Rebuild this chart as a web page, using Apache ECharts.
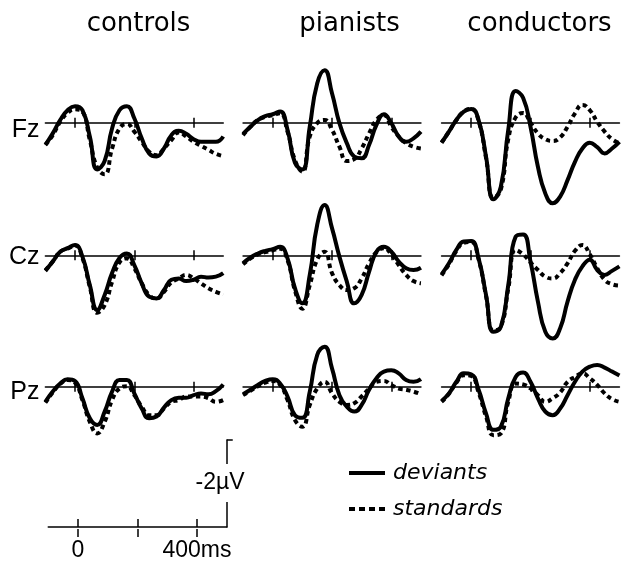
<!DOCTYPE html>
<html><head><meta charset="utf-8">
<script src="https://cdn.jsdelivr.net/npm/echarts@6/dist/echarts.min.js"></script>
<style>html,body{margin:0;padding:0;background:#fff}#c{width:628px;height:562px}</style>
</head><body><div id="c"></div>
<script>
// ---- data (µV, negative plotted upward) ----
const groups = ['controls', 'pianists', 'conductors'];
const sites = ['Fz', 'Cz', 'Pz'];
const timesMs = [-100,-75,-50,-25,0,25,50,75,100,125,150,175,200,225,250,275,300,325,350,375,400,425,450,475,500];
const panelTicksMs = [0, 200, 400];
const scaleTickLabelsMs = [0, 400];
const legendNames = ['deviants', 'standards'];

const controlsFzDev  = [0.50,0.24,-0.06,-0.28,-0.37,-0.28,0.31,1.05,0.86,0.13,-0.28,-0.37,-0.10,0.35,0.69,0.76,0.58,0.28,0.18,0.25,0.37,0.43,0.43,0.43,0.31];
const controlsFzStd  = [0.50,0.28,-0.02,-0.22,-0.30,-0.25,0.39,1.01,1.16,0.58,0.13,0.03,0.20,0.43,0.65,0.73,0.58,0.39,0.22,0.31,0.43,0.52,0.61,0.70,0.75];
const pianistsFzDev  = [0.25,0.09,-0.06,-0.15,-0.19,-0.25,0.16,0.90,1.05,0.09,-0.88,-1.18,-0.66,0.01,0.46,0.76,0.80,0.50,0.05,-0.19,0.01,0.31,0.43,0.35,0.20];
const pianistsFzStd  = [0.28,0.09,-0.06,-0.13,-0.17,-0.21,0.20,0.84,1.10,0.31,0.01,-0.06,0.16,0.54,0.86,0.82,0.58,0.24,-0.06,-0.17,0.09,0.31,0.46,0.54,0.58];
const conductorsFzDev = [0.45,0.20,-0.06,-0.25,-0.31,-0.06,0.76,1.72,1.44,0.16,-0.71,-0.56,0.09,0.99,1.59,1.81,1.66,1.29,0.88,0.58,0.45,0.55,0.69,0.58,0.43];
const conductorsFzStd = [0.45,0.20,-0.06,-0.25,-0.31,-0.04,0.79,1.69,1.50,0.37,-0.12,-0.22,0.00,0.24,0.37,0.41,0.33,0.09,-0.21,-0.40,-0.28,-0.02,0.20,0.37,0.46];

const controlsCzDev  = [0.35,0.14,-0.08,-0.16,-0.23,0.03,0.67,1.23,0.89,0.40,0.06,-0.04,0.22,0.63,0.93,0.97,0.78,0.55,0.52,0.58,0.55,0.48,0.50,0.48,0.40];
const controlsCzStd  = [0.34,0.14,-0.08,-0.15,-0.22,0.06,0.71,1.29,1.12,0.60,0.16,0.07,0.29,0.63,0.89,0.97,0.82,0.61,0.52,0.44,0.52,0.63,0.74,0.82,0.88];
const pianistsCzDev  = [0.18,0.05,-0.04,-0.10,-0.14,-0.19,0.07,0.74,1.08,0.44,-0.68,-1.13,-0.61,0.03,0.59,1.08,0.89,0.37,-0.08,-0.19,-0.08,0.14,0.29,0.33,0.28];
const pianistsCzStd  = [0.20,0.07,-0.02,-0.07,-0.11,-0.15,0.11,0.79,1.20,0.67,0.10,-0.08,0.40,0.67,0.78,0.74,0.52,0.18,-0.07,-0.16,-0.02,0.22,0.44,0.58,0.63];
const conductorsCzDev = [0.43,0.18,-0.12,-0.31,-0.32,0.07,0.89,1.72,1.61,0.67,-0.42,-0.47,0.14,1.04,1.72,1.87,1.64,1.04,0.55,0.25,0.10,0.33,0.44,0.35,0.25];
const conductorsCzStd = [0.45,0.20,-0.10,-0.28,-0.30,0.09,0.91,1.69,1.61,0.75,-0.12,-0.02,0.16,0.33,0.48,0.52,0.40,0.18,-0.10,-0.23,-0.02,0.29,0.55,0.65,0.68];

const controlsPzDev  = [0.34,0.11,-0.07,-0.17,-0.13,0.26,0.71,0.86,0.56,0.11,-0.15,-0.15,0.15,0.49,0.71,0.67,0.47,0.30,0.25,0.25,0.19,0.15,0.17,0.10,-0.05];
const controlsPzStd  = [0.36,0.13,-0.06,-0.15,-0.09,0.30,0.79,1.05,0.79,0.30,0.04,-0.01,0.19,0.45,0.64,0.64,0.49,0.34,0.30,0.22,0.22,0.22,0.26,0.34,0.30];
const pianistsPzDev  = [0.17,0.07,-0.04,-0.13,-0.17,-0.07,0.22,0.64,0.70,0.11,-0.71,-0.90,-0.41,0.19,0.45,0.56,0.41,0.07,-0.19,-0.34,-0.37,-0.30,-0.15,-0.11,-0.17];
const pianistsPzStd  = [0.19,0.09,-0.01,-0.09,-0.13,-0.04,0.30,0.75,0.90,0.41,0.04,-0.11,0.15,0.34,0.41,0.37,0.22,0.04,-0.11,-0.13,-0.04,0.04,0.07,0.11,0.17];
const conductorsPzDev = [0.32,0.15,-0.11,-0.30,-0.28,0.07,0.60,0.97,0.90,0.26,-0.22,-0.32,-0.11,0.26,0.56,0.64,0.49,0.19,-0.11,-0.34,-0.45,-0.49,-0.43,-0.34,-0.25];
const conductorsPzStd = [0.34,0.16,-0.09,-0.26,-0.24,0.13,0.67,1.09,1.05,0.34,-0.07,-0.05,0.04,0.19,0.34,0.26,0.13,-0.11,-0.22,-0.30,-0.19,-0.04,0.15,0.28,0.34];

const waves = {
  Fz: { controls: [controlsFzDev, controlsFzStd], pianists: [pianistsFzDev, pianistsFzStd], conductors: [conductorsFzDev, conductorsFzStd] },
  Cz: { controls: [controlsCzDev, controlsCzStd], pianists: [pianistsCzDev, pianistsCzStd], conductors: [conductorsCzDev, conductorsCzStd] },
  Pz: { controls: [controlsPzDev, controlsPzStd], pianists: [pianistsPzDev, pianistsPzStd], conductors: [conductorsPzDev, conductorsPzStd] }
};

// ---- layout ----
const colLeft = [45.35, 243.05, 441.55];
const rowBase = [122.7, 255.3, 386.7];
const pxPerMs = 0.2965;
const pxPerUv = 44.5;
const yTop = -1.5;
const headerX = [138.5, 349.5, 539.5];
const labelY = [130, 257, 392];
const smoothness = 0.5;

const grid = [], xAxis = [], yAxis = [], series = [], graphic = [];
const black = '#000';
const noSplit = { show: false };

function addAxis(gi, pos, tickLen, showLine, labelOpt) {
  xAxis.push({
    gridIndex: gi, type: 'value', min: -100, max: 500, position: pos,
    axisLine: { show: showLine, onZero: false, lineStyle: { color: black, width: 1.5 } },
    axisTick: { show: true, inside: true, customValues: panelTicksMs, length: tickLen, lineStyle: { color: black, width: 1.5 } },
    axisLabel: labelOpt || { show: false }, splitLine: noSplit
  });
}

sites.forEach((site, r) => {
  groups.forEach((grp, c) => {
    const w = 600 * pxPerMs;
    // upper grid: bottom edge = 0 µV baseline
    const gA = grid.length;
    grid.push({ left: colLeft[c], top: rowBase[r] + yTop * pxPerUv, width: w, height: -yTop * pxPerUv });
    addAxis(gA, 'bottom', 5, true);
    const xa = xAxis.length - 1;
    yAxis.push({ gridIndex: gA, type: 'value', min: yTop, max: 0, inverse: true, show: false, axisLine: { onZero: false } });
    const ya = yAxis.length - 1;
    // lower thin grid: top edge = baseline, carries the downward tick halves
    const gB = grid.length;
    grid.push({ left: colLeft[c], top: rowBase[r], width: w, height: 20 });
    addAxis(gB, 'top', 5, false);
    yAxis.push({ gridIndex: gB, type: 'value', min: 0, max: 1, show: false, axisLine: { onZero: false } });

    const [dev, std] = waves[site][grp];
    series.push({
      type: 'line', name: legendNames[0], xAxisIndex: xa, yAxisIndex: ya,
      data: timesMs.map((t, i) => [t, dev[i]]), smooth: smoothness, symbol: 'none', clip: false, z: 3,
      lineStyle: { color: black, width: 4 }, itemStyle: { color: black }
    });
    series.push({
      type: 'line', name: legendNames[1], xAxisIndex: xa, yAxisIndex: ya,
      data: timesMs.map((t, i) => [t, std[i]]), smooth: smoothness, symbol: 'none', clip: false, z: 4,
      lineStyle: { color: black, width: 4, type: [4.5, 3.5] }, itemStyle: { color: black }
    });
  });
  graphic.push({ type: 'text', x: 39.5, y: labelY[r], z: 100,
    style: { text: site, align: 'right', verticalAlign: 'middle', font: '25px "Liberation Sans"', fill: black } });
});

groups.forEach((g, c) => {
  graphic.push({ type: 'text', x: headerX[c], y: 24, z: 100,
    style: { text: g, align: 'center', verticalAlign: 'middle', font: '26px "DejaVu Sans"', fill: black } });
});

// ---- scale bar ----
const sA = grid.length;
grid.push({ left: 48.25, top: 440, width: 178.5, height: 89 });
addAxis(sA, 'bottom', 8, true, {
  customValues: scaleTickLabelsMs, margin: 12, color: black, fontSize: 23, fontFamily: 'Liberation Sans',
  formatter: v => v === 0 ? '0' : v + 'ms'
});
yAxis.push({
  gridIndex: sA, type: 'value', min: -2, max: 0, inverse: true, position: 'right',
  axisLine: { show: true, onZero: false, lineStyle: { color: black, width: 1.5 } },
  axisTick: { show: true, customValues: [-2], length: 6, lineStyle: { color: black, width: 1.5 } },
  axisLabel: { show: false }, splitLine: noSplit
});
const sB = grid.length;
grid.push({ left: 48.25, top: 529, width: 178.5, height: 10 });
addAxis(sB, 'top', 8, false);
yAxis.push({ gridIndex: sB, type: 'value', min: 0, max: 1, show: false, axisLine: { onZero: false } });

graphic.push({ type: 'text', x: 220, y: 483, z: 100,
  style: { text: '-2µV', align: 'center', verticalAlign: 'middle', font: '23px "Liberation Sans"', fill: black,
           backgroundColor: '#fff', padding: [3, 0, 12, 0] } });

const chart = echarts.init(document.getElementById('c'), null, { renderer: 'canvas' });
chart.setOption({
  animation: false,
  backgroundColor: '#fff',
  grid, xAxis, yAxis, series, graphic,
  legend: {
    orient: 'vertical', left: 347, top: 460, padding: 0, itemWidth: 36, itemHeight: 4, itemGap: 10,
    selectedMode: false,
    itemStyle: { opacity: 0 },
    textStyle: { fontSize: 22, fontStyle: 'italic', fontFamily: 'DejaVu Sans', color: black, lineHeight: 26, padding: [0, 0, 0, 3] },
    data: [
      { name: legendNames[0], lineStyle: { width: 4, color: black, type: 'solid' } },
      { name: legendNames[1], lineStyle: { width: 4, color: black, type: [6, 4] } }
    ]
  }
});
</script></body></html>
